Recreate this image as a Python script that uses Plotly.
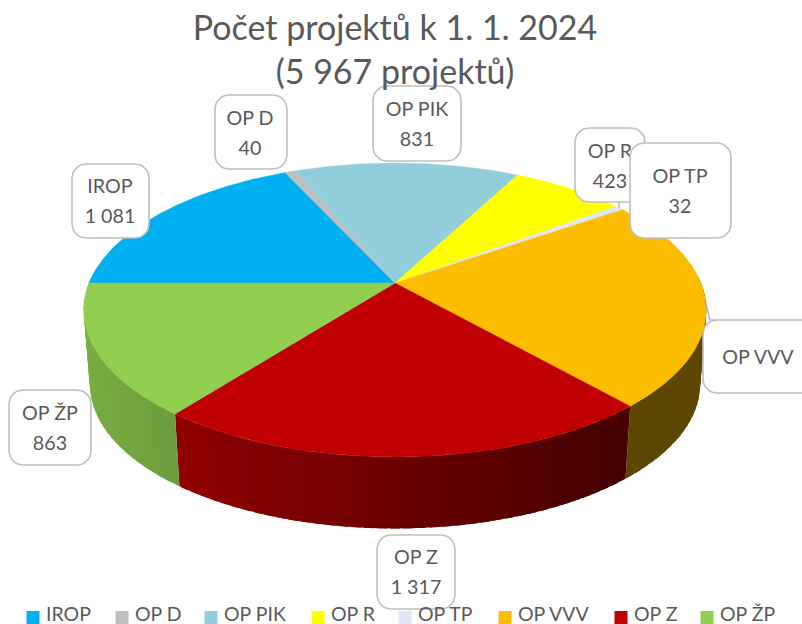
import math
import plotly.graph_objects as go

# --- data ---
categories = ["IROP", "OP D", "OP PIK", "OP R", "OP TP", "OP VVV", "OP Z", "OP ŽP"]
values = [1081, 40, 831, 423, 32, 1380, 1317, 863]
value_labels = ["1 081", "40", "831", "423", "32", "", "1 317", "863"]
colors = ["#00B0F0", "#BFBFBF", "#92CDDC", "#FFFF00", "#DFE7F5", "#FCBD00", "#C00000", "#90CF50"]
title_text = "Počet projektů k 1. 1. 2024<br>(5 967 projektů)"

# --- layout / projection constants (pixels of the 802x624 canvas) ---
W, H = 802, 624
CX, CY, R, S, K = 395, 283, 306, 142, 0.1837   # perspective of the top disc
DEPTH, BOTTOM_SCALE = 75, 0.98                 # extrusion of the bottom disc
START = 270                                    # first slice angle, clockwise from top
TEXT = "#595959"
FONT = "Lato"
LABEL_SIZE = 19.7

# label boxes: left, right, top, bottom, text centre x, text centre y
label_boxes = {
    "IROP": (72, 149, 164, 238, 110, 203),
    "OP D": (215, 287, 95, 169, 250, 135),
    "OP PIK": (373, 461, 86, 161, 417, 126),
    "OP R": (575, 645, 128, 202, 610, 168),
    "OP Z": (377, 455, 535, 609, 416, 574),
    "OP ŽP": (9, 91, 390, 465, 50, 430),
    "OP VVV": (703, 830, 320, 393, 758, 359),
    "OP TP": (630, 731, 143, 238, 680, 193),
}
legend_left = [26, 115, 204, 311, 398, 498, 614, 700]
LEGEND_Y = 617.5


def top_point(theta):
    a = math.radians(theta)
    x, y = math.sin(a), math.cos(a)
    w = 1 + K * y
    return CX + R * x / w, CY - S * y / w


def bottom_point(theta):
    x, y = top_point(theta)
    return CX + (x - CX) * BOTTOM_SCALE, CY + (y - CY) * BOTTOM_SCALE + DEPTH


def shade(base, x):
    f = max(0.37, min(0.84, 0.75 - (x - 180) * 0.00089))
    r, g, b = int(base[1:3], 16), int(base[3:5], 16), int(base[5:7], 16)
    return f"rgb({r*f:.0f},{g*f:.0f},{b*f:.0f})"


def rounded(x0, x1, y0, y1, r=14, n=8):
    xs, ys = [], []
    corners = [(x1 - r, y0 + r, -90), (x1 - r, y1 - r, 0), (x0 + r, y1 - r, 90), (x0 + r, y0 + r, 180)]
    for cx, cy, a0 in corners:
        for i in range(n + 1):
            a = math.radians(a0 + 90 * i / n)
            xs.append(cx + r * math.cos(a))
            ys.append(cy + r * math.sin(a))
    return xs + xs[:1], ys + ys[:1]


fig = go.Figure()
total = sum(values)

# sweep of each slice
spans = []
angle = START
for v in values:
    sweep = v / total * 360
    spans.append((angle, angle + sweep))
    angle += sweep

# side walls (only the near half can be seen); each strip runs under the next to hide seams
for (a0, a1), col in zip(spans, colors):
    n = max(1, int((a1 - a0) / 2))
    for i in range(n):
        t0 = a0 + (a1 - a0) * i / n
        t1 = a0 + (a1 - a0) * (i + 1) / n
        if math.cos(math.radians((t0 + t1) / 2)) > 0.05:
            continue
        t_end = min(a1, t1 + 1.5)
        t_arc = [t0 + (t_end - t0) * j / 4 for j in range(5)]
        tops = [top_point(t) for t in t_arc]
        bots = [bottom_point(t) for t in reversed(t_arc)]
        ring = tops + bots + tops[:1]
        c = shade(col, (top_point(t0)[0] + top_point(t1)[0]) / 2)
        fig.add_trace(go.Scatter(
            x=[p[0] for p in ring], y=[p[1] for p in ring],
            mode="lines", fill="toself", fillcolor=c,
            line=dict(color=c, width=0), hoverinfo="skip", showlegend=False,
        ))

# top face of every slice
for name, v, (a0, a1), col in zip(categories, values, spans, colors):
    n = max(2, int((a1 - a0) / 0.5))
    pts = [top_point(a0 + (a1 - a0) * i / n) for i in range(n + 1)]
    xs = [CX] + [p[0] for p in pts] + [CX]
    ys = [CY] + [p[1] for p in pts] + [CY]
    fig.add_trace(go.Scatter(
        x=xs, y=ys, mode="lines", fill="toself", fillcolor=col,
        line=dict(color=col, width=0.4), name=name,
        hovertemplate=f"{name}: {v}<extra></extra>", showlegend=False,
    ))

# leader lines
leader = dict(color="#A6A6A6", width=1.2)
fig.add_trace(go.Scatter(x=[705, 710, 722], y=[300, 320, 320], mode="lines", line=leader,
                         hoverinfo="skip", showlegend=False))
fig.add_trace(go.Scatter(x=[619, 619], y=[202, 208], mode="lines", line=leader,
                         hoverinfo="skip", showlegend=False))

# data label boxes, in stacking order
for name in label_boxes:
    x0, x1, y0, y1, tx, ty = label_boxes[name]
    bx, by = rounded(x0, x1, y0, y1)
    fig.add_trace(go.Scatter(
        x=bx, y=by, mode="lines", fill="toself", fillcolor="white",
        line=dict(color="#BFBFBF", width=1.6), hoverinfo="skip", showlegend=False,
    ))
    val = value_labels[categories.index(name)]
    lines = [name, val] if val else [name]
    ys = [ty - 15, ty + 15] if val else [ty]
    fig.add_trace(go.Scatter(
        x=[tx] * len(lines), y=ys, mode="text", text=lines, textposition="middle center",
        textfont=dict(family=FONT, size=LABEL_SIZE, color=TEXT), hoverinfo="skip", showlegend=False,
    ))

# legend row
fig.add_trace(go.Scatter(
    x=[l + 7 for l in legend_left], y=[LEGEND_Y] * len(legend_left), mode="markers",
    marker=dict(symbol="square", size=13, color=colors, line=dict(width=0)),
    hoverinfo="skip", showlegend=False, cliponaxis=False,
))
fig.add_trace(go.Scatter(
    x=[l + 20 for l in legend_left], y=[LEGEND_Y - 1] * len(legend_left), mode="text",
    text=categories, textposition="middle right",
    textfont=dict(family=FONT, size=19.5, color=TEXT), hoverinfo="skip", showlegend=False, cliponaxis=False,
))

fig.update_layout(
    width=W, height=H, margin=dict(l=0, r=0, t=0, b=0),
    paper_bgcolor="white", plot_bgcolor="white", showlegend=False,
    title=dict(text=title_text, x=395 / W, xanchor="center", y=1 - 39.5 / H, yanchor="middle",
               font=dict(family=FONT, size=34, color=TEXT)),
    xaxis=dict(range=[0, W], visible=False, fixedrange=True),
    yaxis=dict(range=[H, 0], visible=False, fixedrange=True),
)

fig.write_html("out.html", post_script="document.body.style.margin='0';",
               config={"displayModeBar": False})
